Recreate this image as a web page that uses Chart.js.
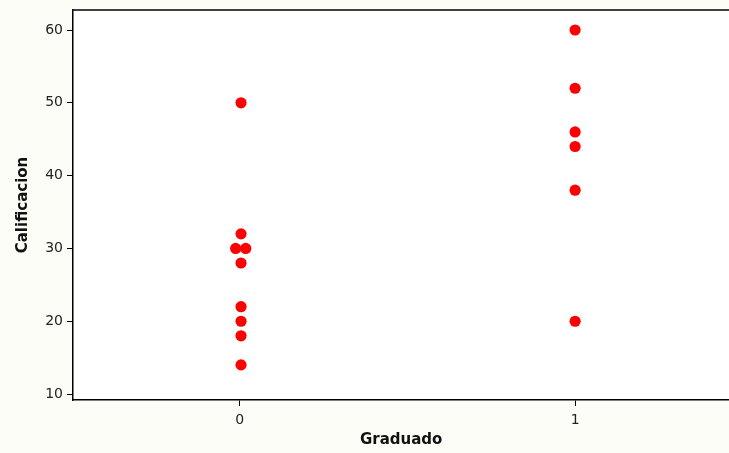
<!DOCTYPE html>
<html>
<head>
<meta charset="utf-8">
<script src="https://cdn.jsdelivr.net/npm/chart.js@4.4.1/dist/chart.umd.min.js"></script>
<style>
  html, body { margin: 0; padding: 0; background: #fdfdf8; overflow: hidden; }
  #wrap { width: 729px; height: 453px; overflow: hidden; }
</style>
</head>
<body>
<div id="wrap"><canvas id="myChart" width="735" height="453"></canvas></div>
<script>
// Graduado (x, con un poco de separacion en los dos 30) y Calificacion (y)
var graduado = [0.004, 0.004, -0.012, 0.018, 0.004, 0.004, 0.004, 0.004, 0.004, 1, 1, 1, 1, 1, 1];
var calificacion = [50, 32, 30, 30, 28, 22, 20, 18, 14, 60, 52, 46, 44, 38, 20];
var xTicks = [0, 1];
var yTicks = [10, 20, 30, 40, 50, 60];

var puntos = graduado.map(function(g, i) { return { x: g, y: calificacion[i] }; });

// fondo crema afuera, blanco dentro del area del grafico, linea de arriba
var fondo = {
    id: 'fondo',
    beforeDraw: function(chart) {
        var c = chart.ctx, a = chart.chartArea;
        c.save();
        c.fillStyle = '#fdfdf8';
        c.fillRect(0, 0, chart.width, chart.height);
        c.fillStyle = '#ffffff';
        c.fillRect(a.left, a.top, chart.width - a.left, a.bottom - a.top);
        c.restore();
    },
    afterDraw: function(chart) {
        var c = chart.ctx, a = chart.chartArea;
        c.save();
        c.strokeStyle = '#000000';
        c.lineWidth = 1.5;
        c.beginPath();
        c.moveTo(a.left, a.top);
        c.lineTo(chart.width, a.top);
        c.stroke();
        c.restore();
    }
};

window.onload = function() {
    var ctx = document.getElementById('myChart').getContext('2d');
    window.myScatter = new Chart(ctx, {
        type: 'scatter',
        data: {
            datasets: [{
                label: 'Calificacion',
                data: puntos,
                backgroundColor: '#ff0000',
                borderColor: '#ff0000',
                pointRadius: 5.6,
                pointHoverRadius: 5.6,
                borderWidth: 0
            }]
        },
        options: {
            responsive: false,
            animation: false,
            layout: { padding: { top: 10, right: 0, left: 0, bottom: 0 } },
            plugins: {
                legend: { display: false },
                tooltip: { enabled: false }
            },
            scales: {
                x: {
                    type: 'linear',
                    min: -0.497,
                    max: 1.46,
                    afterBuildTicks: function(s) { s.ticks = xTicks.map(function(v) { return { value: v }; }); },
                    afterFit: function(s) { s.height = 53; },
                    grid: { drawOnChartArea: false, drawTicks: true, tickLength: 6, color: '#000000', lineWidth: 1 },
                    border: { display: true, color: '#000000', width: 1.5 },
                    ticks: { color: '#222', font: { family: 'DejaVu Sans', size: 14 }, padding: 6 },
                    title: { display: true, text: 'Graduado', color: '#111', font: { family: 'DejaVu Sans', size: 15, weight: 'bold' }, padding: { top: 2 } }
                },
                y: {
                    min: 9.18,
                    max: 62.75,
                    afterBuildTicks: function(s) { s.ticks = yTicks.map(function(v) { return { value: v }; }); },
                    afterFit: function(s) { s.width = 73; s.paddingTop = 0; s.paddingBottom = 0; },
                    grid: { drawOnChartArea: false, drawTicks: true, tickLength: 6, color: '#000000', lineWidth: 1 },
                    border: { display: true, color: '#000000', width: 1.5 },
                    ticks: { color: '#222', font: { family: 'DejaVu Sans', size: 14 }, padding: 4 },
                    title: { display: true, text: 'Calificacion', color: '#111', font: { family: 'DejaVu Sans', size: 15, weight: 'bold' }, padding: { top: 14, bottom: 6 } }
                }
            }
        },
        plugins: [fondo]
    });
};
</script>
</body>
</html>
